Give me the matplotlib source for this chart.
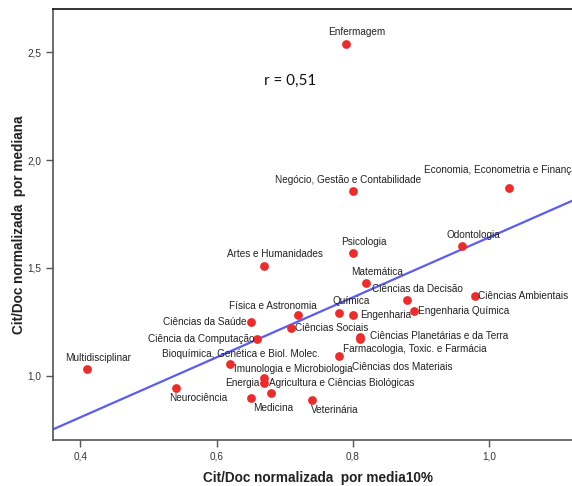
import matplotlib
matplotlib.use("Agg")
import matplotlib.pyplot as plt
import numpy as np

# areas tematicas e valores normalizados
areas = ["Enfermagem", "Negócio, Gestão e Contabilidade", "Economia, Econometria e Finança",
         "Odontologia", "Psicologia", "Artes e Humanidades", "Matemática", "Ciências da Decisão",
         "Ciências Ambientais", "Engenharia Química", "Química", "Engenharia",
         "Física e Astronomia", "Ciências Sociais", "Ciências da Saúde", "Ciência da Computação",
         "Ciências Planetárias e da Terra", "Ciências dos Materiais",
         "Farmacologia, Toxic. e Farmácia", "Bioquímica, Genética e Biol. Molec.",
         "Multidisciplinar", "Neurociência", "Imunologia e Microbiologia", "Energia",
         "Agricultura e Ciências Biológicas", "Medicina", "Veterinária"]
media10 = [0.790, 0.800, 1.030, 0.960, 0.800, 0.670, 0.820, 0.880, 0.980, 0.890, 0.780, 0.800,
           0.720, 0.710, 0.650, 0.660, 0.811, 0.811, 0.780, 0.620, 0.410, 0.540, 0.670, 0.670,
           0.680, 0.650, 0.740]
mediana = [2.540, 1.858, 1.869, 1.602, 1.571, 1.510, 1.431, 1.351, 1.371, 1.301, 1.291, 1.280,
           1.280, 1.221, 1.250, 1.172, 1.181, 1.169, 1.093, 1.053, 1.030, 0.942, 0.988, 0.968,
           0.921, 0.898, 0.887]

# posicao dos rotulos: (dx, dy) em pixels e alinhamento horizontal
rotulos = {
    "Enfermagem": (11, 11.5, "center"),
    "Negócio, Gestão e Contabilidade": (-5, 11, "center"),
    "Economia, Econometria e Finança": (-85, 18, "left"),
    "Odontologia": (-15, 11, "left"),
    "Psicologia": (11, 11, "center"),
    "Artes e Humanidades": (-37, 11.5, "left"),
    "Matemática": (-15, 11, "left"),
    "Ciências da Decisão": (-35, 11.5, "left"),
    "Ciências Ambientais": (3, 0, "left"),
    "Engenharia Química": (4, 0, "left"),
    "Química": (-7, 12, "left"),
    "Engenharia": (7, 0, "left"),
    "Física e Astronomia": (-69, 9.5, "left"),
    "Ciências Sociais": (4, 0, "left"),
    "Ciências da Saúde": (-4, 0, "right"),
    "Ciência da Computação": (-3, 0, "right"),
    "Ciências Planetárias e da Terra": (10, 1, "left"),
    "Ciências dos Materiais": (-8, -27.5, "left"),
    "Farmacologia, Toxic. e Farmácia": (3.5, 7, "left"),
    "Bioquímica, Genética e Biol. Molec.": (11, 10.5, "center"),
    "Multidisciplinar": (11, 11.5, "center"),
    "Neurociência": (23, -10, "center"),
    "Imunologia e Microbiologia": (-30, 9.5, "left"),
    "Energia": (-5, -0.5, "right"),
    "Agricultura e Ciências Biológicas": (-2.5, 9.5, "left"),
    "Medicina": (23, -10.5, "center"),
    "Veterinária": (23, -10, "center"),
}

fig = plt.figure(figsize=(5.72, 4.86), dpi=100)
ax = fig.add_axes([53 / 572, 1 - 440 / 486, (580 - 53) / 572, (440 - 9) / 486])

x = np.array(media10)
y = np.array(mediana)
ax.scatter(x, y, s=40, color="#ee2b2b", zorder=3, linewidths=0)

# reta de regressao
b, a = np.polyfit(x, y, 1)
xl = np.array([0.36, 1.14])
ax.plot(xl, a + b * xl, color="#5a5cf5", linewidth=1.6, zorder=2)

for nome, xi, yi in zip(areas, media10, mediana):
    dx, dy, ha = rotulos[nome]
    ax.annotate(nome, (xi, yi), xytext=(dx, dy), textcoords="offset pixels",
                ha=ha, va="center", fontsize=7.2, color="#222222",
                family="Liberation Sans", annotation_clip=False)

ax.text(0.67, 2.365, "r = 0,51", fontsize=11, family="Lato", color="#111111",
        ha="left", va="center")

ax.set_xlim(0.36, 1.1335)
ax.set_ylim(0.702, 2.70)
ax.set_xticks([0.4, 0.6, 0.8, 1.0])
ax.set_xticklabels(["0,4", "0,6", "0,8", "1,0"])
ax.set_yticks([1.0, 1.5, 2.0, 2.5])
ax.set_yticklabels(["1,0", "1,5", "2,0", "2,5"])
ax.tick_params(direction="out", length=5, width=1, color="#555555", labelsize=7.2,
               labelcolor="#333333", top=False, right=False)
for lab in ax.get_xticklabels() + ax.get_yticklabels():
    lab.set_family("Liberation Sans")

ax.spines["right"].set_visible(False)
ax.spines["top"].set_color("#111111")
ax.spines["left"].set_color("#555555")
ax.spines["bottom"].set_color("#555555")
for s in ["top", "left", "bottom"]:
    ax.spines[s].set_linewidth(1.2)

ax.set_xlabel("Cit/Doc normalizada  por media10%", fontsize=9.8, fontweight="bold",
              family="Liberation Sans", color="#222222")
ax.set_ylabel("Cit/Doc normalizada  por mediana", fontsize=9.8, fontweight="bold",
              family="Liberation Sans", color="#222222")
ax.xaxis.set_label_coords(0.503, -0.072)
ax.yaxis.set_label_coords(-0.052, 0.5)

fig.savefig("out.png", dpi=100)
